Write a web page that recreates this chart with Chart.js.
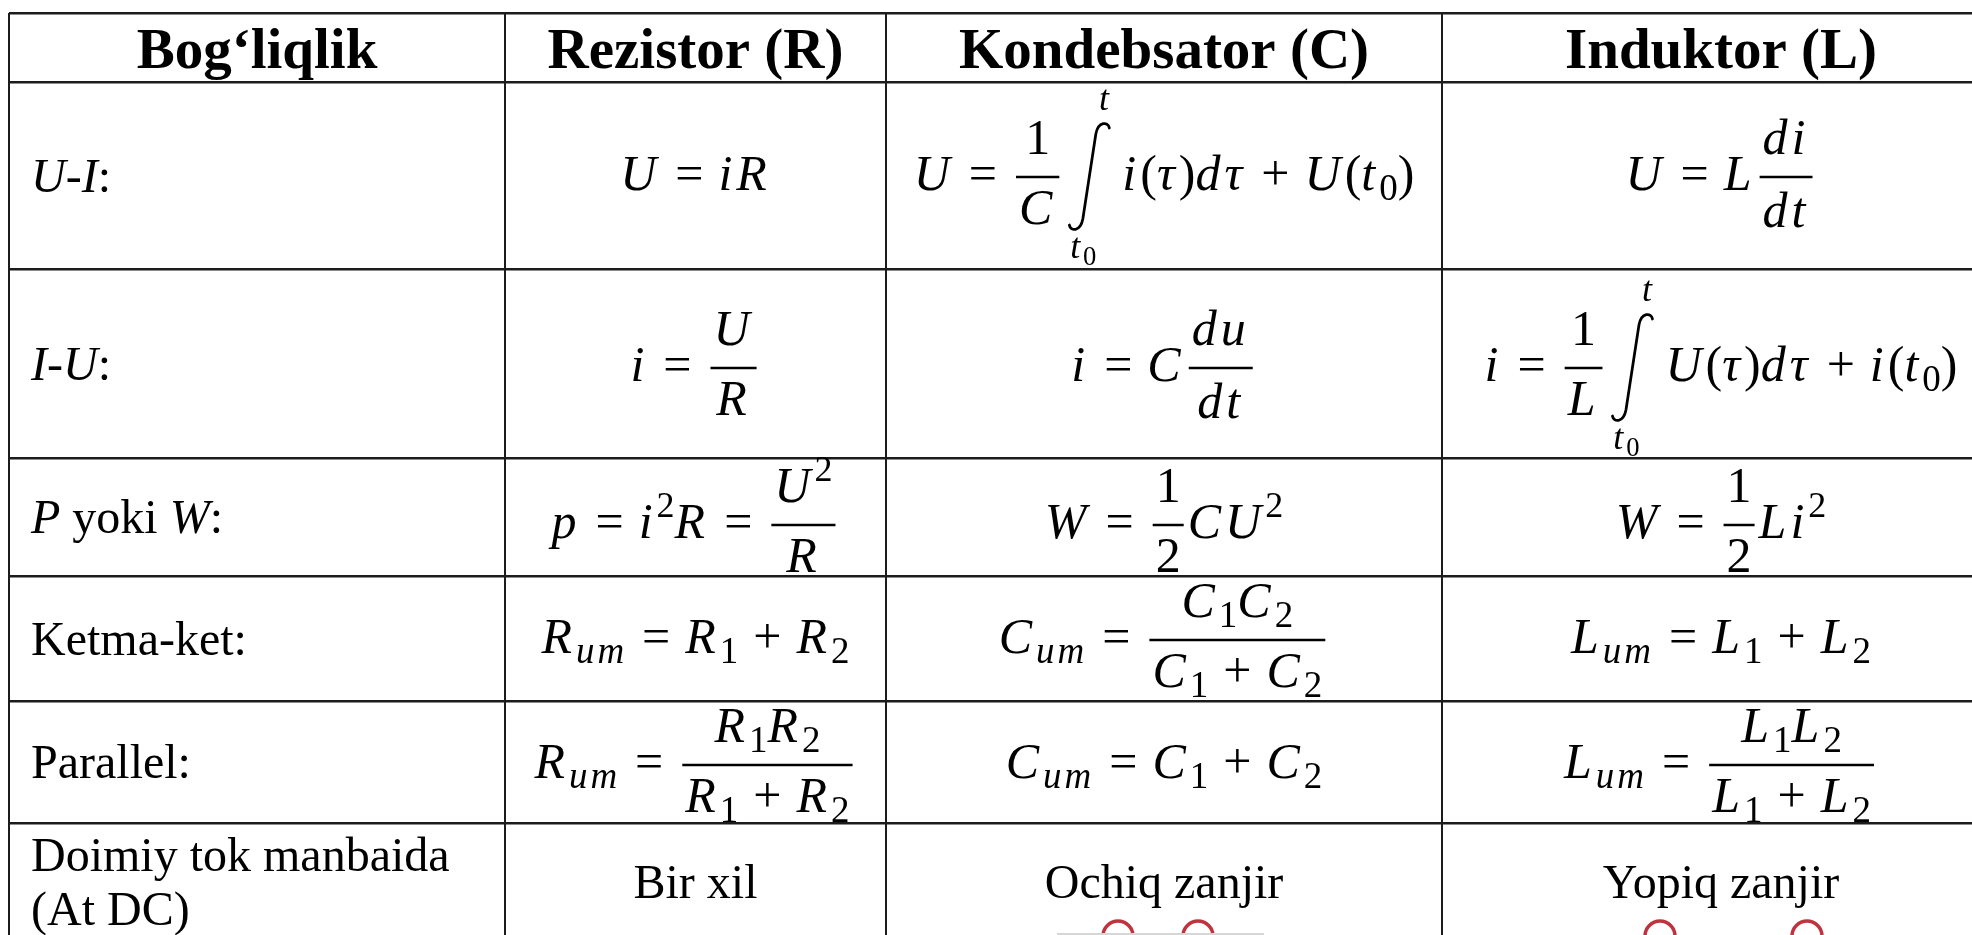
<!DOCTYPE html>
<html>
<head>
<meta charset="utf-8">
<title>Bog‘liqlik jadvali</title>
<script src="https://cdn.jsdelivr.net/npm/chart.js"></script>
<style>
  html, body { margin: 0; padding: 0; background: #fff; }
  canvas { display: block; }
</style>
</head>
<body>
<canvas id="table" width="1972" height="935"></canvas>
<script>
// table contents (math cells use a tiny markup: \f{num}{den}, \i{upper}{lower}, _sub, ^sup)
const headers = ["Bog‘liqlik", "Rezistor (R)", "Kondebsator (C)", "Induktor (L)"];
const rowLabels = ["*U-I*:", "*I-U*:", "*P* yoki *W*:", "Ketma-ket:", "Parallel:", "Doimiy tok manbaida\n(At DC)"];
const resistor = [
  "U = iR",
  "i = \\f{U}{R}",
  "p = i^2R = \\f{U^2}{R}",
  "R_{um} = R_1 + R_2",
  "R_{um} = \\f{R_1R_2}{R_1 + R_2}"
];
const capacitor = [
  "U = \\f{1}{C}\\i{t}{t_0}i(τ)dτ + U(t_0)",
  "i = C\\f{du}{dt}",
  "W = \\f{1}{2}CU^2",
  "C_{um} = \\f{C_1C_2}{C_1 + C_2}",
  "C_{um} = C_1 + C_2"
];
const inductor = [
  "U = L\\f{di}{dt}",
  "i = \\f{1}{L}\\i{t}{t_0}U(τ)dτ + i(t_0)",
  "W = \\f{1}{2}Li^2",
  "L_{um} = L_1 + L_2",
  "L_{um} = \\f{L_1L_2}{L_1 + L_2}"
];
const dcRow = ["Bir xil", "Ochiq zanjir", "Yopiq zanjir"];

// circuit sketch fragments peeking in at the bottom edge
const terminalX = [1118, 1198, 1660, 1807];
const terminalY = 936;
const wireX = [1057, 1264];
const wireY = 934;

// layout of the table (cell edges, page units)
const colEdges = [9, 505, 886, 1442, 2000];
const rowEdges = [13, 82, 269, 458, 576, 701, 823, 940];
const rowAxisShift = [0, 1.5, 4.5, 8, 1.5, 3, 0];

const TEXT_FONT = '"Liberation Serif", "Times New Roman", serif';
const MATH_SIZE = 50;

function parseMath(src) {
  let p = 0;
  function arg() {
    if (src[p] === '{') { p++; const s = seq(); p++; return s; }
    return [{ t: 'ch', c: src[p++] }];
  }
  function seq() {
    const out = [];
    while (p < src.length && src[p] !== '}') {
      const c = src[p];
      if (c === ' ') { p++; continue; }
      if (c === '\\') {
        const cmd = src[p + 1]; p += 2;
        const a = arg(), b = arg();
        out.push({ t: cmd === 'f' ? 'frac' : 'int', a, b });
      } else if (c === '_' || c === '^') {
        p++;
        out.push({ t: c === '_' ? 'sub' : 'sup', a: arg() });
      } else {
        out.push({ t: 'ch', c });
        p++;
      }
    }
    return out;
  }
  return seq();
}

function glyphBox(ctx, c, size) {
  const ital = /[A-Za-zτ]/.test(c);
  const font = (ital ? 'italic ' : '') + size + 'px ' + TEXT_FONT;
  ctx.font = font;
  const m = ctx.measureText(c);
  let pad = 0;
  if (c === '=') pad = size * 0.3;
  else if (c === '+') pad = size * 0.3;
  const extra = ital ? size * 0.08 : 0;
  return {
    w: m.width + 2 * pad + extra,
    asc: m.actualBoundingBoxAscent,
    desc: m.actualBoundingBoxDescent,
    draw(ctx, x, base) { ctx.font = font; ctx.fillText(c, x + pad, base); }
  };
}

function fracBox(ctx, n, size) {
  const num = layout(ctx, n.a, size), den = layout(ctx, n.b, size);
  const axis = size * 0.26, over = size * 0.06, side = size * 0.08;
  const inner = Math.max(num.w, den.w) + 2 * over;
  const numBase = -axis - Math.max(size * 0.46, num.desc + size * 0.26);
  const denBase = -axis + size * 0.28 + den.asc;
  return {
    w: inner + 2 * side,
    asc: -numBase + num.asc,
    desc: denBase + den.desc,
    draw(ctx, x, base) {
      const bx = x + side;
      ctx.fillRect(bx, base - axis - size * 0.025, inner, size * 0.05);
      num.draw(ctx, bx + (inner - num.w) / 2, base + numBase);
      den.draw(ctx, bx + (inner - den.w) / 2, base + denBase);
    }
  };
}

function intBox(ctx, n, size) {
  const up = layout(ctx, n.a, size * 0.72), lo = layout(ctx, n.b, size * 0.72);
  const axis = size * 0.26, w = size * 1.18;
  const top = -axis - size * 1.08, bot = -axis + size * 1.06;
  const upBase = -axis - size * 1.34, loBase = -axis + size * 1.62;
  return {
    w,
    asc: -upBase + up.asc,
    desc: loBase + lo.desc,
    draw(ctx, x, base) {
      const xl = x + size * 0.12, xr = x + size * 0.92;
      const yt = base + top, yb = base + bot;
      ctx.save();
      ctx.strokeStyle = '#000';
      ctx.lineWidth = size * 0.055;
      ctx.lineCap = 'round';
      ctx.beginPath();
      ctx.moveTo(xr, yt + size * 0.1);
      ctx.bezierCurveTo(xr - size * 0.02, yt - size * 0.03, xr - size * 0.22, yt - size * 0.04, xr - size * 0.27, yt + size * 0.22);
      ctx.lineTo(xl + size * 0.27, yb - size * 0.22);
      ctx.bezierCurveTo(xl + size * 0.22, yb + size * 0.04, xl + size * 0.02, yb + size * 0.03, xl, yb - size * 0.1);
      ctx.stroke();
      ctx.restore();
      up.draw(ctx, x + size * 0.84 - up.w / 2, base + upBase);
      lo.draw(ctx, x + size * 0.4 - lo.w / 2, base + loBase);
    }
  };
}

function layout(ctx, nodes, size) {
  const items = [];
  let w = 0, asc = 0, desc = 0;
  nodes.forEach(n => {
    let b, dy = 0;
    if (n.t === 'ch') b = glyphBox(ctx, n.c, size);
    else if (n.t === 'sub') { b = layout(ctx, n.a, size * 0.74); dy = size * 0.2; }
    else if (n.t === 'sup') { b = layout(ctx, n.a, size * 0.72); dy = -size * 0.42; }
    else if (n.t === 'frac') b = fracBox(ctx, n, size);
    else b = intBox(ctx, n, size);
    items.push({ b, x: w, dy });
    w += b.w;
    asc = Math.max(asc, b.asc - dy);
    desc = Math.max(desc, b.desc + dy);
  });
  return {
    w, asc, desc,
    draw(ctx, x0, base) { items.forEach(it => it.b.draw(ctx, x0 + it.x, base + it.dy)); }
  };
}

// text with *italic* parts, left aligned
function drawMixed(ctx, str, x, base, size) {
  str.split('*').forEach((part, k) => {
    ctx.font = (k % 2 ? 'italic ' : '') + size + 'px ' + TEXT_FONT;
    ctx.fillText(part, x, base);
    x += ctx.measureText(part).width;
  });
}

const tablePlugin = {
  id: 'tableText',
  afterDraw(chart) {
    const { ctx, scales: { x, y } } = chart;
    const cx = i => (x.getPixelForValue(colEdges[i]) + x.getPixelForValue(colEdges[i + 1])) / 2;
    const cy = r => (y.getPixelForValue(rowEdges[r]) + y.getPixelForValue(rowEdges[r + 1])) / 2;
    ctx.save();
    ctx.fillStyle = '#000';
    ctx.strokeStyle = '#000';
    ctx.textBaseline = 'alphabetic';

    // header row
    ctx.textAlign = 'center';
    ctx.font = 'bold 57px ' + TEXT_FONT;
    headers.forEach((h, i) => ctx.fillText(h, cx(i), cy(0) + 20));

    // row labels
    ctx.textAlign = 'left';
    const left = x.getPixelForValue(colEdges[0]) + 22;
    rowLabels.forEach((lab, r) => {
      const lines = lab.split('\n');
      const c = cy(r + 1) + 16 - (lines.length - 1) * 27;
      lines.forEach((ln, k) => drawMixed(ctx, ln, left, c + k * 54, 48));
    });

    // formulas
    [resistor, capacitor, inductor].forEach((col, i) => {
      col.forEach((src, r) => {
        const box = layout(ctx, parseMath(src), MATH_SIZE);
        const axisY = cy(r + 1) + rowAxisShift[r + 1];
        box.draw(ctx, cx(i + 1) - box.w / 2, axisY + MATH_SIZE * 0.26);
      });
    });

    // last row, plain text
    ctx.textAlign = 'center';
    ctx.font = '48px ' + TEXT_FONT;
    dcRow.forEach((t, i) => ctx.fillText(t, cx(i + 1), cy(6) + 16));
    ctx.restore();
  }
};

// the scale starts at the table's outer border, so grid lines begin there
const gridAxis = (edges, max, width) => ({
  type: 'linear',
  min: edges[0],
  max: max,
  afterBuildTicks: s => { s.ticks = edges.filter(v => v < max).map(v => ({ value: v })); },
  ticks: { display: false },
  border: { display: false },
  grid: { color: '#1c1c1c', lineWidth: width, drawTicks: false }
});

new Chart(document.getElementById('table'), {
  type: 'scatter',
  data: {
    datasets: [
      {
        type: 'line',
        data: wireX.map(v => ({ x: v, y: wireY })),
        borderColor: '#d6d6d6',
        borderWidth: 2,
        pointRadius: 0,
        clip: false
      },
      {
        data: terminalX.map(v => ({ x: v, y: terminalY })),
        pointRadius: 15,
        borderWidth: 3.5,
        borderColor: '#c0323d',
        backgroundColor: '#fff',
        clip: false
      }
    ]
  },
  options: {
    responsive: false,
    animation: false,
    devicePixelRatio: 1,
    layout: { autoPadding: false, padding: { left: colEdges[0], top: rowEdges[0], right: 0, bottom: 0 } },
    plugins: { legend: { display: false }, tooltip: { enabled: false } },
    scales: {
      x: gridAxis(colEdges, 1972, 2),
      y: Object.assign(gridAxis(rowEdges, 935, 2.5), { reverse: true })
    }
  },
  plugins: [tablePlugin]
});
</script>
</body>
</html>
